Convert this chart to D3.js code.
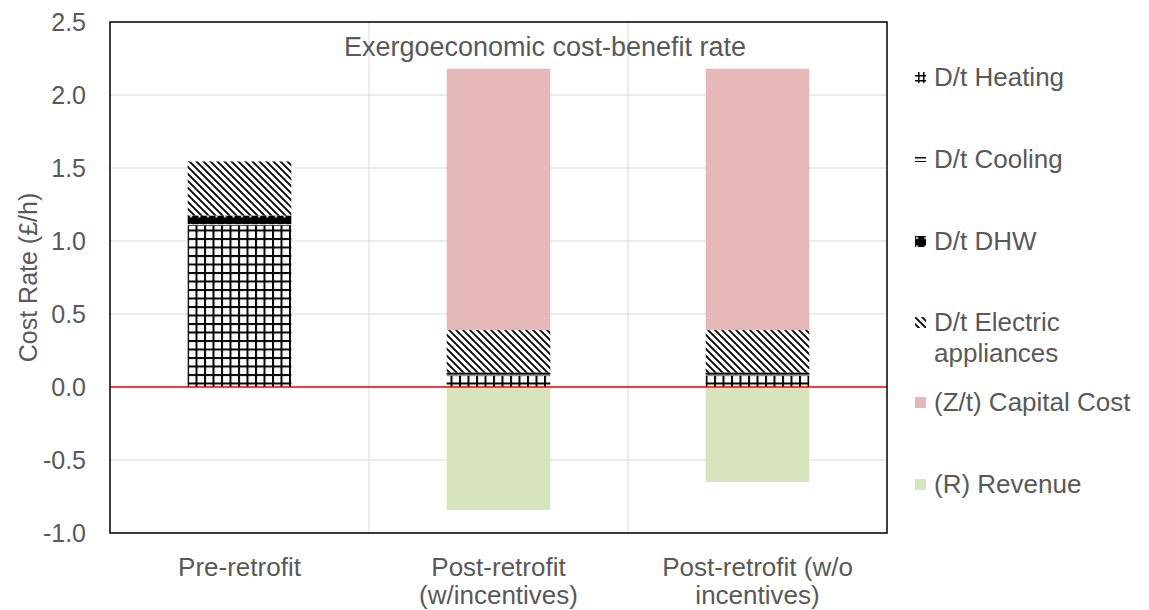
<!DOCTYPE html>
<html>
<head>
<meta charset="utf-8">
<script src="https://cdn.jsdelivr.net/npm/d3@7"></script>
<style>
  html, body { margin: 0; padding: 0; background: #fff; }
  svg { display: block; font-family: "Liberation Sans", Arial, sans-serif; }
</style>
</head>
<body>
<svg id="chart" width="1149" height="610"></svg>
<script>
// Scenarios on the x axis (each label may wrap to two lines)
const categories = ["Pre-retrofit", "Post-retrofit (w/incentives)", "Post-retrofit (w/o incentives)"];
const categoryLines = [["Pre-retrofit"], ["Post-retrofit", "(w/incentives)"], ["Post-retrofit (w/o", "incentives)"]];

// Cost rates in £/h per scenario
const heating  = [1.105, 0.080, 0.080];
const cooling  = [0.010, 0.005, 0.005];
const dhw      = [0.060, 0.015, 0.015];
const electric = [0.370, 0.290, 0.290];
const capital  = [0.000, 1.790, 1.790];
const revenue  = [0.000, -0.842, -0.650];

const yTicks = [-1.0, -0.5, 0.0, 0.5, 1.0, 1.5, 2.0, 2.5];

const seriesNames = ["D/t Heating", "D/t Cooling", "D/t DHW", "D/t Electric appliances", "(Z/t) Capital Cost", "(R) Revenue"];

const svg = d3.select("#chart");
const margin = { left: 110, right: 262, top: 22, bottom: 77 };
const W = 1149, H = 610;
const x0 = margin.left, x1 = W - margin.right;
const y0 = margin.top, y1 = H - margin.bottom;
const textColor = "#595959";

const x = d3.scaleBand().domain(categories).range([x0, x1]).paddingInner(0).paddingOuter(0);
const y = d3.scaleLinear().domain([-1.0, 2.5]).range([y1, y0]);
const barW = x.bandwidth() / 2.5;

// Fill patterns
const defs = svg.append("defs");

function gridPattern(id, size, lw) {
  const p = defs.append("pattern").attr("id", id)
    .attr("patternUnits", "userSpaceOnUse").attr("width", size).attr("height", size);
  p.append("rect").attr("width", size).attr("height", size).attr("fill", "#fff");
  p.append("rect").attr("width", lw).attr("height", size).attr("fill", "#000");
  p.append("rect").attr("width", size).attr("height", lw).attr("fill", "#000");
}
gridPattern("pat-heat", 8.5, 2);
gridPattern("pat-heat-key", 5, 1.5);

const pCool = defs.append("pattern").attr("id", "pat-cool")
  .attr("patternUnits", "userSpaceOnUse").attr("width", 8).attr("height", 4);
pCool.append("rect").attr("width", 8).attr("height", 4).attr("fill", "#fff");
pCool.append("rect").attr("y", 1).attr("width", 8).attr("height", 1.5).attr("fill", "#000");

const pDhw = defs.append("pattern").attr("id", "pat-dhw")
  .attr("patternUnits", "userSpaceOnUse").attr("width", 8.5).attr("height", 8.5);
pDhw.append("rect").attr("width", 8.5).attr("height", 8.5).attr("fill", "#000");
pDhw.append("rect").attr("x", 3).attr("y", 3).attr("width", 2).attr("height", 2).attr("fill", "#fff");

const pElec = defs.append("pattern").attr("id", "pat-elec")
  .attr("patternUnits", "userSpaceOnUse").attr("width", 7).attr("height", 7);
pElec.append("rect").attr("width", 7).attr("height", 7).attr("fill", "#fff");
pElec.append("path").attr("d", "M0,0L7,7M-1,6L1,8M6,-1L8,1")
  .attr("stroke", "#000").attr("stroke-width", 1.8);

const fills = ["url(#pat-heat)", "url(#pat-cool)", "url(#pat-dhw)", "url(#pat-elec)", "#e6b9b8", "#d7e4bd"];
const keyFills = ["url(#pat-heat-key)", "url(#pat-cool)", "url(#pat-dhw)", "url(#pat-elec)", "#e6b9b8", "#d7e4bd"];

// Gridlines
const grid = svg.append("g");
grid.selectAll("line.h").data(yTicks).enter().append("line")
  .attr("x1", x0).attr("x2", x1)
  .attr("y1", d => y(d)).attr("y2", d => y(d))
  .attr("stroke", "#d9d9d9").attr("stroke-width", 1);
grid.selectAll("line.v").data(categories.slice(1)).enter().append("line")
  .attr("x1", d => x(d)).attr("x2", d => x(d))
  .attr("y1", y0).attr("y2", y1)
  .attr("stroke", "#d9d9d9").attr("stroke-width", 1);

// Stacked positive bars, revenue hangs below zero
const positive = [heating, cooling, dhw, electric, capital];
const bars = svg.append("g");
categories.forEach((c, i) => {
  let base = 0;
  positive.forEach((arr, s) => {
    const v = arr[i];
    if (v > 0) {
      bars.append("rect")
        .attr("x", x(c) + (x.bandwidth() - barW) / 2)
        .attr("width", barW)
        .attr("y", y(base + v))
        .attr("height", y(base) - y(base + v))
        .attr("fill", fills[s]);
    }
    base += v;
  });
  if (revenue[i] < 0) {
    bars.append("rect")
      .attr("x", x(c) + (x.bandwidth() - barW) / 2)
      .attr("width", barW)
      .attr("y", y(0))
      .attr("height", y(revenue[i]) - y(0))
      .attr("fill", fills[5]);
  }
});

// Zero line
svg.append("line").attr("x1", x0).attr("x2", x1)
  .attr("y1", y(0)).attr("y2", y(0))
  .attr("stroke", "#ff0000").attr("stroke-width", 1.5);

// Plot frame
svg.append("rect").attr("x", x0).attr("y", y0).attr("width", x1 - x0).attr("height", y1 - y0)
  .attr("fill", "none").attr("stroke", "#000").attr("stroke-width", 1.5);

// Y axis labels
const yAxis = d3.axisLeft(y).tickValues(yTicks).tickFormat(d3.format(".1f")).tickSize(0).tickPadding(0);
const yg = svg.append("g").attr("transform", `translate(${x0 - 24},0)`).call(yAxis);
yg.select(".domain").remove();
yg.selectAll("text").attr("font-size", 25).attr("fill", textColor)
  .attr("font-family", "Liberation Sans, Arial, sans-serif")
  .text(d => d3.format(".1f")(d).replace("−", "-"));

// Y axis title
svg.append("text").attr("transform", `translate(37,${(y0 + y1) / 2}) rotate(-90)`)
  .attr("text-anchor", "middle").attr("font-size", 25).attr("fill", textColor)
  .text("Cost Rate (£/h)");

// X category labels
const xl = svg.append("g");
categories.forEach((c, i) => {
  const cx = x(c) + x.bandwidth() / 2;
  const t = xl.append("text").attr("x", cx).attr("y", 576)
    .attr("text-anchor", "middle").attr("font-size", 26).attr("fill", textColor);
  categoryLines[i].forEach((ln, k) => {
    t.append("tspan").attr("x", cx).attr("dy", k === 0 ? 0 : 28).text(ln);
  });
});

// Title
svg.append("text").attr("x", 545).attr("y", 56).attr("text-anchor", "middle")
  .attr("font-size", 27).attr("fill", textColor).text("Exergoeconomic cost-benefit rate");

// Legend
const legendY = [77, 159, 241, 322, 402, 484];
const legendLines = [["D/t Heating"], ["D/t Cooling"], ["D/t DHW"], ["D/t Electric", "appliances"], ["(Z/t) Capital Cost"], ["(R) Revenue"]];
const lg = svg.append("g");
seriesNames.forEach((n, i) => {
  // swatch drawn in its own local space so the pattern phase is fixed per key
  const sw = lg.append("g").attr("transform", `translate(913,${legendY[i] - 7})`);
  if (i === 1) {
    sw.append("rect").attr("x", 2).attr("y", 3).attr("width", 11).attr("height", 7).attr("fill", keyFills[i]);
  } else {
    sw.append("rect").attr("x", 2).attr("y", 2).attr("width", 11).attr("height", 11).attr("fill", keyFills[i]);
  }
  const t = lg.append("text").attr("x", 934).attr("y", legendY[i] + 9)
    .attr("font-size", 26).attr("fill", textColor);
  legendLines[i].forEach((ln, k) => {
    t.append("tspan").attr("x", 934).attr("dy", k === 0 ? 0 : 31).text(ln);
  });
});
</script>
</body>
</html>
